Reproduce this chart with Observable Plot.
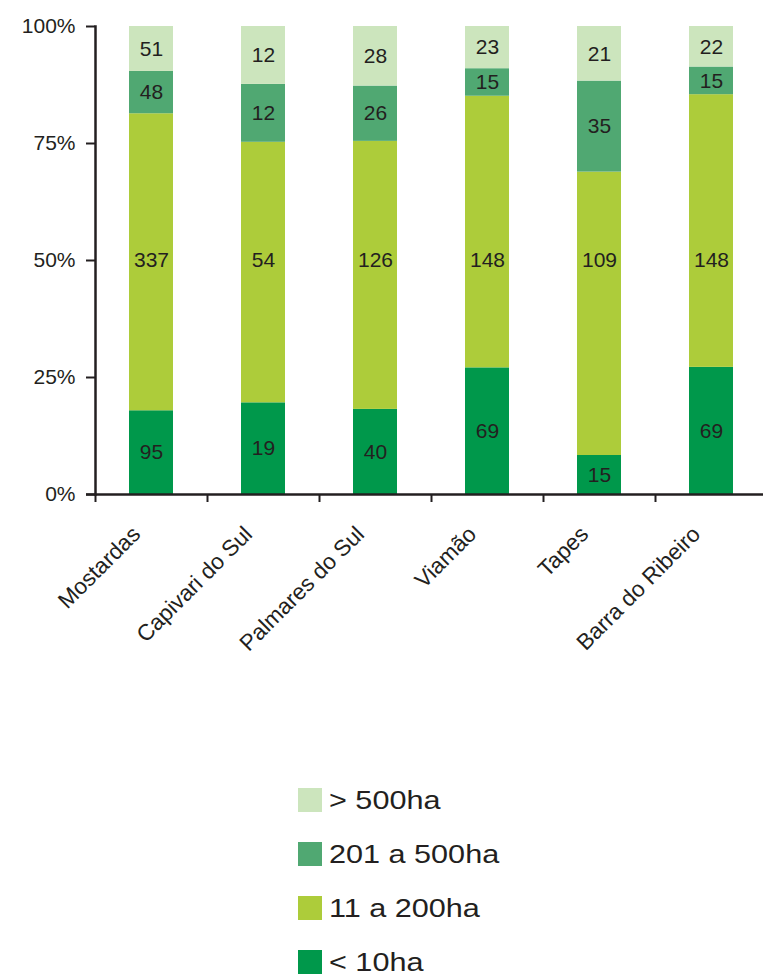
<!DOCTYPE html>
<html>
<head>
<meta charset="utf-8">
<script src="https://cdn.jsdelivr.net/npm/d3@7"></script>
<script src="https://cdn.jsdelivr.net/npm/@observablehq/plot@0.6"></script>
<style>
  html, body { margin: 0; padding: 0; background: #fff; }
  body { width: 763px; font-family: "Liberation Sans", Arial, Helvetica, sans-serif; color: #231f20; }
  #legend { margin-top: 18px; padding-left: 298px; }
  .row { display: flex; align-items: center; height: 24px; margin-bottom: 30px; }
  .sw { width: 24px; height: 24px; flex: none; }
  .lab { margin-left: 7px; font-size: 25.5px; line-height: 24px; transform: scaleX(1.2); transform-origin: left center; white-space: nowrap; }
</style>
</head>
<body>
<div id="chart"></div>
<div id="legend"></div>
<script>
const categories = ["Mostardas", "Capivari do Sul", "Palmares do Sul", "Viamão", "Tapes", "Barra do Ribeiro"];
const classes = ["< 10ha", "11 a 200ha", "201 a 500ha", "> 500ha"];
const colors = ["#00984b", "#adcc3a", "#50a872", "#cce5bd"];
const lt10 = [95, 19, 40, 69, 15, 69];
const c11to200 = [337, 54, 126, 148, 109, 148];
const c201to500 = [48, 12, 26, 15, 35, 15];
const gt500 = [51, 12, 28, 23, 21, 22];
const yTicks = [0, 0.25, 0.5, 0.75, 1];

const series = [lt10, c11to200, c201to500, gt500];
const data = [];
categories.forEach((c, i) => {
  series.forEach((s, k) => data.push({category: c, cls: classes[k], value: s[i]}));
});
// the middle class is labelled on the 50% line in the original chart
const midClass = classes[1];
const stackedData = data.filter(d => d.cls !== midClass);
const midData = data.filter(d => d.cls === midClass);

const ink = "#231f20";
const font = '"Liberation Sans", Arial, Helvetica, sans-serif';

const chart = Plot.plot({
  width: 763,
  height: 770,
  marginLeft: 95,
  marginRight: 0,
  marginTop: 26,
  marginBottom: 276,
  style: {fontFamily: font, fontSize: "21px", color: ink, background: "#fff"},
  x: {domain: categories, range: [95, 767], paddingInner: 0.607, paddingOuter: 0.3035, align: 0.5},
  y: {domain: [0, 1]},
  color: {domain: classes, range: colors},
  marks: [
    Plot.barY(data, Plot.stackY({offset: "normalize", x: "category", y: "value", fill: "cls"})),
    Plot.text(data, Plot.stackY({offset: "normalize", x: "category", y: "value", text: d => d.cls === midClass ? "" : String(d.value), fill: ink, fontSize: 21})),
    Plot.text(midData, {x: "category", y: () => 0.5, text: d => String(d.value), fill: ink, fontSize: 21}),
    Plot.axisY({ticks: yTicks, tickFormat: d3.format(".0%"), tickSize: 9, tickPadding: 11, label: null, color: ink, strokeWidth: 2, fontSize: 21}),
    Plot.axisX({tickSize: 8, tickFormat: () => "", label: null, dx: -56, color: ink, strokeWidth: 2}),
    Plot.frame({anchor: "left", stroke: ink, strokeWidth: 2.5}),
    Plot.ruleY([0], {insetLeft: -9, stroke: ink, strokeWidth: 2.5}),
    Plot.text(categories, {x: d => d, frameAnchor: "bottom", rotate: -45, textAnchor: "end", lineAnchor: "middle", dx: -15, dy: 36, fontSize: 22.5, fill: ink})
  ]
});
document.getElementById("chart").appendChild(chart);

const legend = document.getElementById("legend");
[3, 2, 1, 0].forEach(k => {
  const row = document.createElement("div");
  row.className = "row";
  const sw = document.createElement("div");
  sw.className = "sw";
  sw.style.background = colors[k];
  const lab = document.createElement("span");
  lab.className = "lab";
  lab.textContent = classes[k];
  row.appendChild(sw);
  row.appendChild(lab);
  legend.appendChild(row);
});
</script>
</body>
</html>
